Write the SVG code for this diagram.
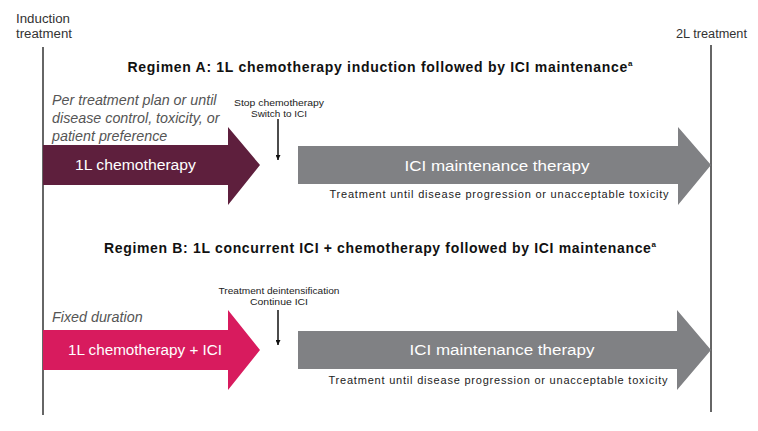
<svg xmlns="http://www.w3.org/2000/svg" width="758" height="431" viewBox="0 0 758 431">
<style>
text{font-family:"Liberation Sans",Arial,sans-serif;}
.lbl{font-size:12px;fill:#333;}
.title{font-size:14px;font-weight:bold;fill:#111;text-anchor:middle;}
.it{font-size:14.3px;font-style:italic;fill:#555;}
.w{font-size:15.5px;fill:#fff;}
.sm{font-size:9px;fill:#222;text-anchor:middle;}
.note{font-size:11px;fill:#222;text-anchor:middle;}
.vl{stroke:#333;stroke-width:1.5;}
.dn{stroke:#111;stroke-width:1.5;}
</style>
<defs>
<marker id="ah" viewBox="0 0 10 10" refX="10" refY="5" markerWidth="5" markerHeight="5" orient="auto" markerUnits="userSpaceOnUse">
<path d="M0,0 L10,5 L0,10 z" fill="#111"/>
</marker>
</defs>
<rect width="758" height="431" fill="#fff"/>
<g id="axis">
<text class="lbl" x="16" y="23" textLength="54" lengthAdjust="spacingAndGlyphs">Induction</text>
<text class="lbl" x="16" y="38" textLength="56" lengthAdjust="spacingAndGlyphs">treatment</text>
<text class="lbl" x="676" y="38" textLength="71" lengthAdjust="spacingAndGlyphs">2L treatment</text>
<line class="vl" x1="43" y1="47" x2="43" y2="415"/>
<line class="vl" x1="711" y1="45" x2="711" y2="412"/>
</g>
<g id="regimenA">
<text class="title" x="380" y="72" textLength="505" lengthAdjust="spacing">Regimen A: 1L chemotherapy induction followed by ICI maintenance<tspan font-size="8" dy="-6">a</tspan></text>
<text class="it" x="52" y="105">Per treatment plan or until</text>
<text class="it" x="52" y="123">disease control, toxicity, or</text>
<text class="it" x="52" y="141">patient preference</text>
</g>
<g id="a-chemo">
<path d="M43,145 H228 V127 L260,165 L228,205 V185 H43 Z" fill="#5E1F3D"/>
<text class="w" x="75" y="170" textLength="121" lengthAdjust="spacingAndGlyphs">1L chemotherapy</text>
</g>
<g id="a-ici">
<path d="M298,146 H678 V127 L711,165 L678,205 V184 H298 Z" fill="#808184"/>
<text class="w" x="497" y="171" text-anchor="middle" textLength="185" lengthAdjust="spacingAndGlyphs">ICI maintenance therapy</text>
<text class="note" x="499" y="198" textLength="339" lengthAdjust="spacing">Treatment until disease progression or unacceptable toxicity</text>
</g>
<g id="a-switch">
<text class="sm" x="279" y="106" textLength="90" lengthAdjust="spacingAndGlyphs">Stop chemotherapy</text>
<text class="sm" x="279" y="117" textLength="56" lengthAdjust="spacingAndGlyphs">Switch to ICI</text>
</g>
<g id="regimenB">
<text class="title" x="380" y="253" textLength="552" lengthAdjust="spacing">Regimen B: 1L concurrent ICI + chemotherapy followed by ICI maintenance<tspan font-size="8" dy="-6">a</tspan></text>
<text class="it" x="52" y="322">Fixed duration</text>
</g>
<g id="b-chemo">
<path d="M43,330 H228 V310 L260,350 L228,390 V370 H43 Z" fill="#D81B5E"/>
<text class="w" x="68" y="355" textLength="154" lengthAdjust="spacingAndGlyphs">1L chemotherapy + ICI</text>
</g>
<g id="b-ici">
<path d="M298,331 H677 V310 L711,350 L677,390 V369 H298 Z" fill="#808184"/>
<text class="w" x="502" y="355" text-anchor="middle" textLength="185" lengthAdjust="spacingAndGlyphs">ICI maintenance therapy</text>
<text class="note" x="498" y="384" textLength="339" lengthAdjust="spacing">Treatment until disease progression or unacceptable toxicity</text>
</g>
<g id="b-switch">
<text class="sm" x="279" y="294" textLength="121" lengthAdjust="spacingAndGlyphs">Treatment deintensification</text>
<text class="sm" x="279" y="305" textLength="58" lengthAdjust="spacingAndGlyphs">Continue ICI</text>
</g>
<g id="connectors">
<line class="dn" x1="278" y1="119" x2="278" y2="160" marker-end="url(#ah)"/>
<line class="dn" x1="278" y1="310" x2="278" y2="345" marker-end="url(#ah)"/>
</g>
</svg>
